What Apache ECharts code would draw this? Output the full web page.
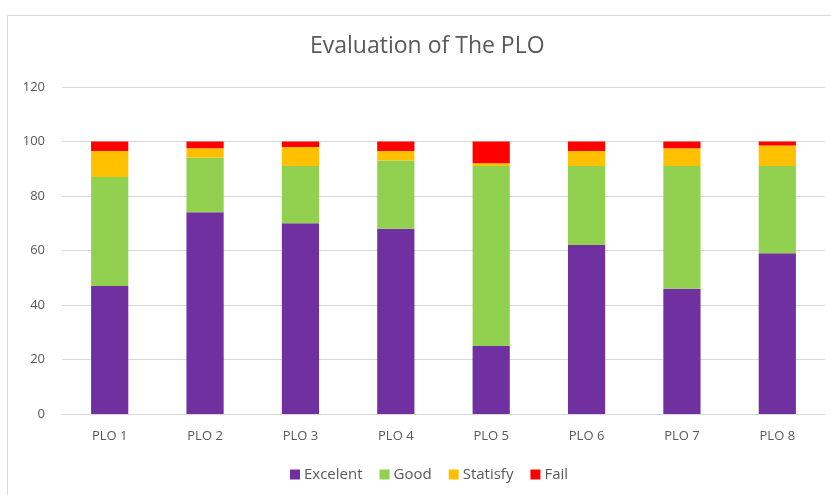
<!DOCTYPE html>
<html>
    <head>
        <meta charset="utf-8" />
        <title>Evaluation of The PLO</title>
        <script src="https://cdn.jsdelivr.net/npm/echarts@6/dist/echarts.min.js"></script>
        <style>
            body { margin: 0; background: #fff; }
        </style>
    </head>
    <body>
        <div id="main" style="width: 831px;height: 495px;"></div>
        <script type="text/javascript">
            const categories = ['PLO 1', 'PLO 2', 'PLO 3', 'PLO 4', 'PLO 5', 'PLO 6', 'PLO 7', 'PLO 8'];
            const excelent = [47, 74, 70, 68, 25, 62, 46, 59];
            const good = [40, 20, 21, 25, 66, 29, 45, 32];
            const statisfy = [9.5, 3.5, 7, 3.5, 1, 5.5, 6.5, 7.5];
            const fail = [3.5, 2.5, 2, 3.5, 8, 3.5, 2.5, 1.5];
            const yTicks = [0, 20, 40, 60, 80, 100, 120];

            const FONT = '"Open Sans", sans-serif';
            const TEXT = '#595959';

            const myChart = echarts.init(document.getElementById('main'));

            const makeSeries = (name, data, color) => ({
                type: 'bar',
                name: name,
                data: data,
                stack: 'total',
                barWidth: '39%',
                itemStyle: {
                    color: color
                }
            });

            const option = {
                animation: false,
                title: {
                    text: 'Evaluation of The PLO',
                    left: 305,
                    top: 30,
                    textStyle: {
                        color: TEXT,
                        fontFamily: FONT,
                        fontSize: 23,
                        fontWeight: 'normal'
                    }
                },
                graphic: [{
                    type: 'rect',
                    shape: { x: 7.5, y: 15.5, width: 840, height: 500 },
                    style: { fill: 'none', stroke: '#d9d9d9', lineWidth: 1 },
                    silent: true
                }],
                grid: {
                    left: 62,
                    right: 6,
                    top: 87,
                    bottom: 81
                },
                legend: {
                    bottom: 8,
                    left: 285,
                    icon: 'rect',
                    itemWidth: 10,
                    itemHeight: 10,
                    itemGap: 17,
                    data: ['Excelent', 'Good', 'Statisfy', 'Fail'],
                    textStyle: {
                        color: TEXT,
                        fontFamily: FONT,
                        fontSize: 15,
                        padding: [0, 0, 0, -1]
                    }
                },
                xAxis: {
                    type: 'category',
                    data: categories,
                    axisLine: { lineStyle: { color: '#d9d9d9' } },
                    axisTick: { show: false },
                    axisLabel: {
                        color: TEXT,
                        fontFamily: FONT,
                        fontSize: 13,
                        margin: 16
                    }
                },
                yAxis: {
                    type: 'value',
                    min: yTicks[0],
                    max: yTicks[yTicks.length - 1],
                    interval: yTicks[1] - yTicks[0],
                    axisLine: { show: false },
                    axisTick: { show: false },
                    axisLabel: {
                        color: TEXT,
                        fontFamily: FONT,
                        fontSize: 13,
                        margin: 17
                    },
                    splitLine: { lineStyle: { color: '#d9d9d9' } }
                },
                series: [
                    makeSeries('Excelent', excelent, '#7030A0'),
                    makeSeries('Good', good, '#92D050'),
                    makeSeries('Statisfy', statisfy, '#FFC000'),
                    makeSeries('Fail', fail, '#FF0000')
                ]
            };
            myChart.setOption(option);
        </script>
    </body>
</html>
